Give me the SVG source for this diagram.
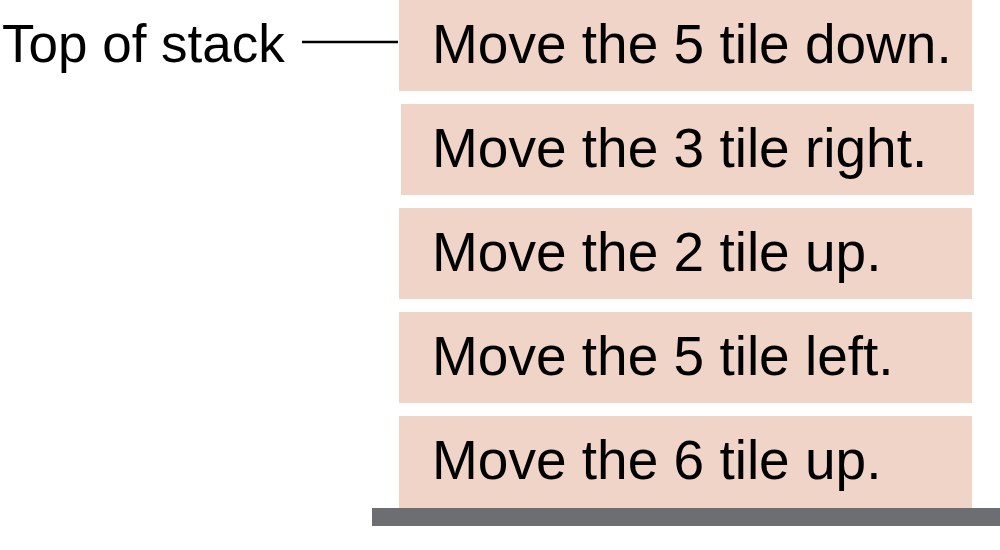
<svg xmlns="http://www.w3.org/2000/svg" width="1000" height="550" viewBox="0 0 1000 550">
<style>
.box{fill:#f0d4c8}
.t{font-family:"Liberation Sans",Arial,sans-serif;font-size:55px;fill:#000}
.lbl{font-family:"Liberation Sans",Arial,sans-serif;font-size:53px;fill:#000}
</style>
<rect width="1000" height="550" fill="#fff"/>
<g id="label"><text class="lbl" x="2" y="62">Top of stack</text></g>
<g id="connectors"><line x1="302" y1="42" x2="398" y2="42" stroke="#000" stroke-width="2.5"/></g>
<g id="n1"><rect class="box" x="399" y="0" width="573" height="91"/><text class="t" x="432" y="63">Move the 5 tile down.</text></g>
<g id="n2"><rect class="box" x="401" y="104" width="573" height="91"/><text class="t" x="432" y="167">Move the 3 tile right.</text></g>
<g id="n3"><rect class="box" x="399" y="208" width="573" height="91"/><text class="t" x="432" y="271">Move the 2 tile up.</text></g>
<g id="n4"><rect class="box" x="399" y="312" width="573" height="91"/><text class="t" x="432" y="375">Move the 5 tile left.</text></g>
<g id="n5"><rect class="box" x="399" y="416" width="573" height="92"/><text class="t" x="432" y="479">Move the 6 tile up.</text></g>
<g id="base"><rect x="372" y="508" width="628" height="18" fill="#6d6e71"/></g>
</svg>
